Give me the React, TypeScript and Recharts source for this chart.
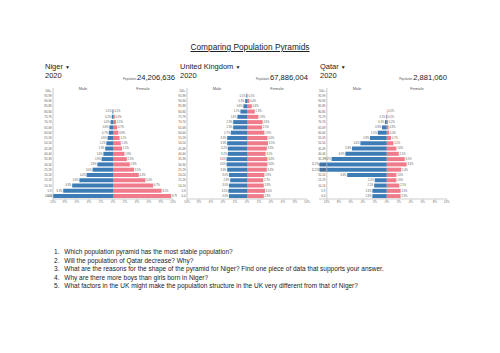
import React from "react";
import { BarChart, Bar, XAxis, YAxis, LabelList, ReferenceLine } from "recharts";

// age groups, youngest first
const ages = [
  "0-4", "5-9", "10-14", "15-19", "20-24", "25-29", "30-34", "35-39", "40-44", "45-49",
  "50-54", "55-59", "60-64", "65-69", "70-74", "75-79", "80-84", "85-89", "90-94", "95-99", "100+",
];
const ticks = [-10, -8, -6, -4, -2, 0, 2, 4, 6, 8, 10];

// % of total population, 2020
const nigerMale = [10.0, 8.3, 6.8, 5.6, 4.4, 3.4, 2.6, 1.9, 1.6, 1.3, 1.1, 0.9, 0.7, 0.6, 0.4, 0.2, 0.1, 0.0, 0.0, 0.0, 0.0];
const nigerFemale = [9.7, 8.1, 6.7, 5.4, 4.3, 3.5, 2.8, 2.3, 1.9, 1.5, 1.3, 1.1, 0.9, 0.7, 0.5, 0.3, 0.1, 0.0, 0.0, 0.0, 0.0];
const ukMale = [3.0, 3.1, 3.0, 2.8, 3.0, 3.3, 3.4, 3.4, 3.2, 3.2, 3.3, 3.3, 2.7, 2.3, 2.3, 1.6, 1.1, 0.6, 0.3, 0.1, 0.0];
const ukFemale = [2.8, 3.0, 2.8, 2.7, 2.9, 3.3, 3.4, 3.4, 3.1, 3.3, 3.5, 3.4, 2.9, 2.5, 2.6, 1.9, 1.3, 0.8, 0.4, 0.1, 0.0];
const qatarMale = [2.4, 2.4, 2.1, 2.0, 6.6, 11.2, 11.2, 9.2, 6.9, 5.8, 4.4, 2.8, 1.5, 0.8, 0.3, 0.1, 0.0, 0.0, 0.0, 0.0, 0.0];
const qatarFemale = [2.3, 2.3, 2.1, 1.6, 1.6, 2.4, 3.3, 3.0, 2.0, 1.6, 1.1, 0.7, 0.4, 0.3, 0.2, 0.1, 0.1, 0.0, 0.0, 0.0, 0.0];

const questions = [
  "Which population pyramid has the most stable population?",
  "Will the population of Qatar decrease? Why?",
  "What are the reasons for the shape of the pyramid for Niger? Find one piece of data that supports your answer.",
  "Why are there more boys than girls born in Niger?",
  "What factors in the UK might make the population structure in the UK very different from that of Niger?",
];

const FONT = "'Liberation Sans', Arial, sans-serif";
const BLUE = "#3e7cb6";
const PINK = "#ef7b8b";
const PX = 6; // px per 1%

const sideLabel = (side: "m" | "f") => (props: any) => {
  const x0 = Number(props.x);
  const w = Number(props.width);
  const lx = side === "m" ? Math.min(x0, x0 + w) - 0.8 : Math.max(x0, x0 + w) + 0.8;
  return (
    <text
      x={lx}
      y={Number(props.y) + Number(props.height) / 2}
      dy="0.35em"
      fontSize={2.6}
      fill="#555"
      fontFamily={FONT}
      textAnchor={side === "m" ? "end" : "start"}
    >
      {Math.abs(Number(props.value)).toFixed(1)}%
    </text>
  );
};

function Pyramid({ male, female, left, lo }: { male: number[]; female: number[]; left: number; lo: number }) {
  const data = ages.map((age, i) => ({ age, male: -male[i], female: female[i] }));
  const plotW = (10 - lo) * PX;
  const shift = (-10 - lo) * PX;
  const yw = 12;
  const x0 = left - shift - yw;
  return (
    <div style={{ position: "absolute", left: x0, top: 85 }}>
      <BarChart
        width={yw + plotW + 4}
        height={125}
        data={data}
        layout="vertical"
        stackOffset="sign"
        barCategoryGap={0.4}
        margin={{ top: 3, right: 4, bottom: 0, left: 0 }}
      >
        <XAxis
          type="number"
          domain={[lo, 10]}
          ticks={ticks}
          interval={0}
          height={11}
          tickSize={1.5}
          tickMargin={0.5}
          stroke="#ccc"
          tick={{ fontSize: 3, fill: "#777", fontFamily: FONT }}
          tickFormatter={(v: number) => Math.abs(v) + "%"}
        />
        <Bar dataKey="male" stackId="a" fill={BLUE} isAnimationActive={false}>
          <LabelList dataKey="male" content={sideLabel("m")} />
        </Bar>
        <Bar dataKey="female" stackId="a" fill={PINK} isAnimationActive={false}>
          <LabelList dataKey="female" content={sideLabel("f")} />
        </Bar>
        <ReferenceLine x={-10} stroke="#bbb" strokeWidth={0.8} />
        <YAxis
          type="category"
          dataKey="age"
          reversed
          width={yw}
          interval={0}
          axisLine={false}
          tickLine={false}
          tickSize={0}
          tickMargin={1.5}
          tick={{ fontSize: 2.8, fill: "#555", fontFamily: FONT, dx: shift }}
        />
      </BarChart>
      <div style={{ position: "absolute", left: left - x0 + 20, top: 1, width: 20, textAlign: "center", fontSize: 4, color: "#555" }}>Male</div>
      <div style={{ position: "absolute", left: left - x0 + 80, top: 1, width: 20, textAlign: "center", fontSize: 4, color: "#555" }}>Female</div>
    </div>
  );
}

function Header({ name, pop, left, right }: { name: string; pop: string; left: number; right: number }) {
  return (
    <>
      <div style={{ position: "absolute", left, top: 62, fontSize: 7.5, lineHeight: "9px", color: "#222" }}>
        {name} <span style={{ fontSize: 5 }}>▼</span>
      </div>
      <div style={{ position: "absolute", left, top: 70.5, fontSize: 7.5, lineHeight: "9px", color: "#222" }}>2020</div>
      <div style={{ position: "absolute", left: right - 120, width: 120, top: 70, textAlign: "right", lineHeight: "9px", color: "#222", whiteSpace: "nowrap" }}>
        <span style={{ fontSize: 2.8, color: "#555" }}>Population </span>
        <span style={{ fontSize: 7.6 }}>{pop}</span>
      </div>
    </>
  );
}

export default function App() {
  return (
    <div style={{ position: "absolute", left: 0, top: 0, width: 500, height: 353, background: "#fff", fontFamily: FONT, overflow: "hidden" }}>
      <div style={{ position: "absolute", left: 0, width: 500, top: 42, textAlign: "center", fontSize: 8.3, lineHeight: "10px", color: "#222", textDecoration: "underline" }}>
        Comparing Population Pyramids
      </div>

      <Header name="Niger" pop="24,206,636" left={45} right={175} />
      <Header name="United Kingdom" pop="67,886,004" left={180} right={308} />
      <Header name="Qatar" pop="2,881,060" left={320} right={447} />

      <Pyramid male={nigerMale} female={nigerFemale} left={53} lo={-10} />
      <Pyramid male={ukMale} female={ukFemale} left={187} lo={-10} />
      <Pyramid male={qatarMale} female={qatarFemale} left={327} lo={-11.3} />

      <div style={{ position: "absolute", left: 54, top: 248, fontSize: 6.5, lineHeight: "8.6px", color: "#222" }}>
        {questions.map((q, i) => (
          <div key={i} style={{ whiteSpace: "nowrap" }}>
            <span style={{ display: "inline-block", width: 10.3 }}>{i + 1}.</span>
            {q}
          </div>
        ))}
      </div>
    </div>
  );
}
